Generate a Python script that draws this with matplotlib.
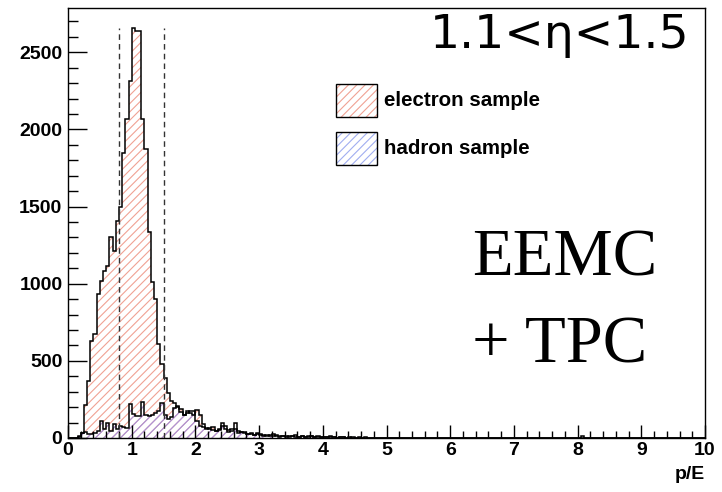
import numpy as np
import matplotlib
matplotlib.use("Agg")
import matplotlib.pyplot as plt
from matplotlib.patches import Rectangle
from matplotlib.ticker import MultipleLocator

# p/E histograms, 200 bins of width 0.05 on [0, 10]
bin_edges = np.linspace(0.0, 10.0, 201)

electron_counts = [
    0, 0, 0, 8, 30, 214, 370, 630, 673, 933,
    1020, 1080, 1117, 1301, 1214, 1409, 1496, 1846, 2070, 2314,
    2654, 2639, 2639, 2065, 1875, 1333, 1009, 902, 610, 480,
    392, 294, 240, 229, 200, 185, 150, 175, 160, 150,
    180, 150, 90, 60, 62, 70, 45, 60, 100, 80,
    55, 60, 100, 45, 40, 40, 25, 25, 20, 35,
    25, 20, 15, 18, 25, 12, 10, 15, 8, 10,
    12, 20, 8, 10, 6, 15, 10, 8, 12, 6,
    5, 8, 10, 4, 3, 6, 5, 3, 4, 2,
    3, 5, 2, 4, 2, 1, 3, 2, 0, 2,
    1, 0, 2, 1, 0, 2, 1, 0, 1, 1,
    0, 1, 0, 2, 1, 0, 0, 1, 0, 1,
    0, 1, 0, 0, 1, 0, 0, 2, 0, 1,
    0, 0, 1, 0, 0, 1, 0, 0, 0, 1,
    0, 1, 0, 0, 0, 1, 0, 0, 1, 0,
    0, 0, 1, 0, 0, 0, 0, 1, 0, 0,
    1, 0, 0, 0, 1, 0, 0, 0, 0, 1,
    0, 0, 0, 1, 0, 0, 0, 0, 1, 0,
    0, 1, 0, 0, 0, 0, 1, 0, 0, 0,
    0, 0, 1, 0, 0, 0, 0, 0, 1, 0,
]

hadron_counts = [
    0, 0, 0, 13, 34, 40, 26, 26, 30, 45,
    110, 60, 100, 45, 90, 56, 75, 70, 65, 219,
    154, 140, 145, 236, 150, 143, 150, 160, 175, 229,
    150, 120, 135, 197, 210, 170, 150, 160, 175, 175,
    110, 78, 70, 65, 60, 55, 45, 50, 80, 60,
    40, 45, 60, 35, 40, 30, 25, 30, 20, 25,
    20, 15, 20, 12, 10, 18, 8, 10, 12, 6,
    10, 8, 5, 12, 6, 8, 10, 5, 6, 4,
    6, 4, 8, 5, 3, 4, 6, 2, 3, 4,
    2, 3, 1, 2, 3, 1, 2, 1, 2, 1,
    0, 1, 1, 0, 2, 0, 1, 0, 0, 1,
    0, 1, 1, 0, 0, 1, 0, 0, 1, 0,
    0, 0, 1, 0, 0, 0, 1, 0, 0, 0,
    1, 0, 0, 0, 0, 0, 1, 0, 0, 0,
    0, 0, 1, 0, 0, 0, 0, 1, 0, 0,
    0, 0, 0, 0, 1, 0, 0, 0, 0, 0,
    0, 10, 0, 0, 1, 0, 0, 0, 0, 1,
    0, 0, 0, 0, 1, 0, 0, 0, 0, 0,
    0, 0, 1, 0, 0, 0, 0, 0, 0, 0,
    0, 0, 0, 1, 0, 0, 0, 0, 0, 0,
]

cut_lo, cut_hi = 0.8, 1.5
x_ticks = list(range(0, 11))
y_ticks = [0, 500, 1000, 1500, 2000, 2500]

series_labels = ["electron sample", "hadron sample"]
range_label = "1.1<\u03b7<1.5"
detector_lines = ["EEMC", "+ TPC"]
x_title = "p/E"

RED_HATCH = "#f0a294"
PURPLE_HATCH = "#a892da"
BLUE_HATCH = "#a0aef0"
HATCH = "////"

plt.rcParams["hatch.linewidth"] = 0.8
fig = plt.figure(figsize=(7.22, 4.92), dpi=100)
ax = fig.add_axes([68 / 722, 1 - 438 / 492, 637 / 722, 430 / 492])

ax.stairs(electron_counts, bin_edges, fill=True, facecolor="none",
          edgecolor=RED_HATCH, hatch=HATCH, linewidth=0, baseline=0)
ax.stairs(hadron_counts, bin_edges, fill=True, facecolor="none",
          edgecolor=PURPLE_HATCH, hatch=HATCH, linewidth=0, baseline=0)
ax.stairs(electron_counts, bin_edges, color="black", linewidth=1.1, baseline=0)
ax.stairs(hadron_counts, bin_edges, color="black", linewidth=1.1, baseline=0)

peak = max(electron_counts)
ax.vlines([cut_lo, cut_hi], 0, peak, colors="#333333",
          linestyles=(0, (4, 3)), linewidth=1.0)

ax.set_xlim(0, 10)
ax.set_ylim(0, peak * 1.05)

tick_font = dict(family="Liberation Sans", weight="bold", size=14)
ax.set_xticks(x_ticks)
ax.set_xticklabels([str(v) for v in x_ticks], fontdict=tick_font)
ax.set_yticks(y_ticks)
ax.set_yticklabels([str(v) for v in y_ticks], fontdict=tick_font)
ax.xaxis.set_minor_locator(MultipleLocator(0.2))
ax.yaxis.set_minor_locator(MultipleLocator(100))
ax.tick_params(axis="x", which="major", direction="in", length=9.5, width=1, pad=3)
ax.tick_params(axis="x", which="minor", direction="in", length=5, width=1)
ax.tick_params(axis="y", which="major", direction="in", length=14, width=1, pad=4)
ax.tick_params(axis="y", which="minor", direction="in", length=7, width=1)
for s in ax.spines.values():
    s.set_linewidth(1.0)

ax.text(1.0, -0.085, x_title, transform=ax.transAxes, ha="right", va="center",
        family="Liberation Sans", weight="bold", fontsize=14)

ax.text(0.975, 0.907, range_label, transform=ax.transAxes, ha="right",
        va="baseline", family="DejaVu Sans", fontsize=34)

ax.text(0.635, 0.378, detector_lines[0], transform=ax.transAxes, ha="left",
        va="baseline", family="Liberation Serif", fontsize=48)
ax.text(0.635, 0.176, detector_lines[1], transform=ax.transAxes, ha="left",
        va="baseline", family="Liberation Serif", fontsize=48)

# legend entries
legend_rows = [(0.7465, RED_HATCH), (0.635, BLUE_HATCH)]
for (ybot, hc), lab in zip(legend_rows, series_labels):
    ax.add_patch(Rectangle((0.4207, ybot), 0.0644, 0.077, transform=ax.transAxes,
                           facecolor="none", edgecolor=hc, hatch=HATCH,
                           linewidth=0, clip_on=False))
    ax.add_patch(Rectangle((0.4207, ybot), 0.0644, 0.077, transform=ax.transAxes,
                           facecolor="none", edgecolor="black", linewidth=1.0,
                           clip_on=False))
    ax.text(0.496, ybot + 0.0385, lab, transform=ax.transAxes, ha="left",
            va="center", family="Liberation Sans", weight="bold", fontsize=14.8)

fig.savefig("out.png", dpi=100)
